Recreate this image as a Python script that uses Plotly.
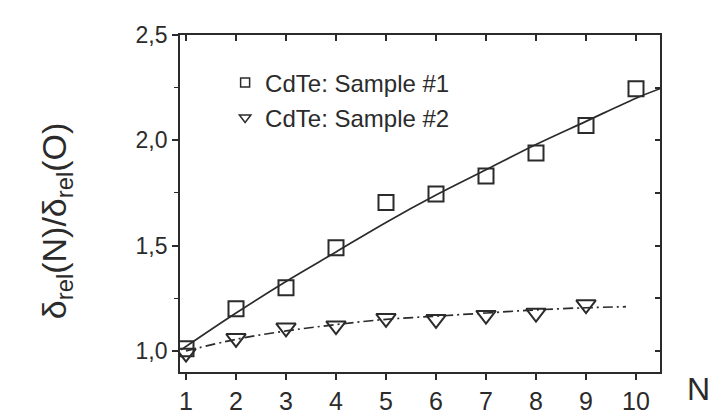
import plotly.graph_objects as go

# ---- data ----
n_values = [1, 2, 3, 4, 5, 6, 7, 8, 9, 10]
sample1 = [1.01, 1.20, 1.30, 1.49, 1.705, 1.745, 1.83, 1.94, 2.07, 2.245]
n_values2 = [1, 2, 3, 4, 5, 6, 7, 8, 9]
sample2 = [0.99, 1.06, 1.11, 1.12, 1.155, 1.15, 1.17, 1.18, 1.22]

fit1_x = [0.9, 2, 3, 4, 5, 6, 7, 8, 9, 10, 10.48]
fit1_y = [1.005, 1.18, 1.33, 1.47, 1.61, 1.74, 1.86, 1.98, 2.09, 2.20, 2.245]
fit2_x = [1, 2, 3, 4, 5, 6, 7, 8, 9, 9.8]
fit2_y = [1.0, 1.055, 1.095, 1.125, 1.15, 1.165, 1.18, 1.195, 1.205, 1.21]

legend_names = ["CdTe: Sample #1", "CdTe: Sample #2"]
x_ticks = list(range(1, 11))
y_ticks = [1.0, 1.5, 2.0, 2.5]

INK = "#2b2b2b"
FONT = "Liberation Sans, Arial, sans-serif"
xr = [0.88, 10.48]
yr = [0.9, 2.5]

fig = go.Figure()

fig.add_trace(go.Scatter(x=fit1_x, y=fit1_y, mode="lines", line=dict(color=INK, width=1.7, shape="spline"),
                         showlegend=False, hoverinfo="skip"))
fig.add_trace(go.Scatter(x=fit2_x, y=fit2_y, mode="lines",
                         line=dict(color=INK, width=1.7, dash="10px,4px,2px,4px", shape="spline"),
                         showlegend=False, hoverinfo="skip"))
fig.add_trace(go.Scatter(x=n_values, y=sample1, mode="markers",
                         marker=dict(symbol="square-open", size=15, color=INK, line=dict(width=2, color=INK)),
                         showlegend=False))
fig.add_trace(go.Scatter(x=n_values2, y=sample2, mode="markers",
                         marker=dict(symbol="triangle-down-open", size=17, color=INK, line=dict(width=2, color=INK)),
                         showlegend=False))

# legend entries (small symbols as in the reference)
fig.add_trace(go.Scatter(x=[None], y=[None], mode="markers", name=legend_names[0], legendgroup="a",
                         marker=dict(symbol="square-open", size=9, color=INK, line=dict(width=1.5, color=INK))))
fig.add_trace(go.Scatter(x=[None], y=[None], mode="markers", name=legend_names[1], legendgroup="b",
                         marker=dict(symbol="triangle-down-open", size=10, color=INK, line=dict(width=1.5, color=INK))))

# mirrored inward ticks on top and right
fig.add_trace(go.Scatter(x=[None], y=[None], xaxis="x2", yaxis="y2", showlegend=False))

fig.update_layout(
    width=717, height=419,
    margin=dict(l=172, r=65, t=27, b=39),
    paper_bgcolor="white", plot_bgcolor="white",
    separators=",.",
    font=dict(family=FONT, color=INK),
    showlegend=True,
    legend=dict(x=0.094, y=0.925, xanchor="left", yanchor="top", bgcolor="rgba(0,0,0,0)",
                font=dict(size=24, family=FONT, color=INK), tracegroupgap=1, traceorder="grouped"),
    xaxis=dict(range=xr, tickvals=x_ticks, ticks="outside", ticklen=6, tickwidth=1.5, tickcolor=INK,
               showline=True, linecolor=INK, linewidth=1.8, mirror=True, showgrid=False, zeroline=False,
               tickfont=dict(size=25, family=FONT, color=INK)),
    yaxis=dict(range=yr, tickvals=y_ticks, tickformat=".1f", ticks="outside", ticklen=6, tickwidth=1.5,
               tickcolor=INK, showline=True, linecolor=INK, linewidth=1.8, mirror=True, showgrid=False,
               zeroline=False, tickfont=dict(size=23, family=FONT, color=INK),
               minor=dict(dtick=0.25, ticks="outside", ticklen=4, tickwidth=1.2, tickcolor=INK)),
    xaxis2=dict(range=xr, overlaying="x", side="top", tickvals=x_ticks, ticks="inside", ticklen=6,
                tickwidth=1.5, tickcolor=INK, showticklabels=False, showgrid=False, zeroline=False,
                showline=False),
    yaxis2=dict(range=yr, overlaying="y", side="right", dtick=0.25, tick0=1.0, ticks="inside", ticklen=5,
                tickwidth=1.5, tickcolor=INK, showticklabels=False, showgrid=False, zeroline=False,
                showline=False),
    annotations=[
        dict(text="δ<sub>rel</sub>(N)/δ<sub>rel</sub>(O)", xref="paper", yref="paper",
             x=-0.258, y=0.448, xanchor="center", yanchor="middle", textangle=-90, showarrow=False,
             font=dict(size=34, family=FONT, color=INK)),
        dict(text="N", xref="paper", yref="paper", x=1.08, y=-0.05, xanchor="center", yanchor="middle",
             showarrow=False, font=dict(size=32, family=FONT, color=INK)),
    ],
)

fig.write_html("out.html")
